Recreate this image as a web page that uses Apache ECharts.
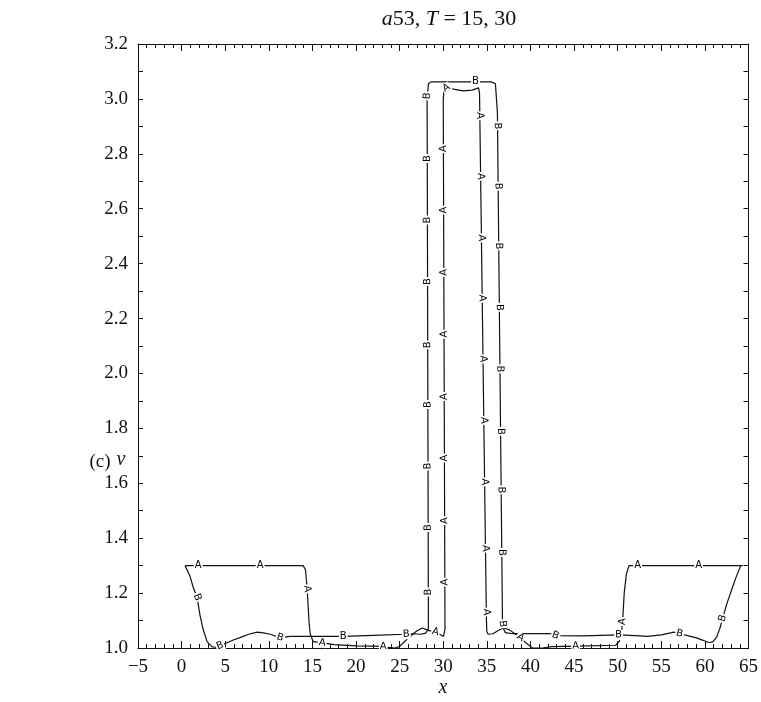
<!DOCTYPE html>
<html>
<head>
<meta charset="utf-8">
<script src="https://cdn.jsdelivr.net/npm/echarts@6/dist/echarts.min.js"></script>
<style>
  html, body { margin: 0; padding: 0; background: #fff; }
  #chart { width: 761px; height: 702px; }
</style>
</head>
<body>
<div id="chart"></div>
<script>
// Axis ranges and tick steps
const xRange = [-5, 65];
const xStep = 5;
const vRange = [1.0, 3.2];
const vStep = 0.2;

// Profile A (T = 15): [x, v]
const curveA = [
  [0.4, 1.3], [13.94, 1.3], [14.2, 1.285], [14.4, 1.215], [14.6, 1.1], [14.74, 1.052],
  [15.09, 1.023], [16.12, 1.019], [17.5, 1.012], [20, 1.008], [23.12, 1.006], [23.7, 1.002],
  [24.5, 1.0], [25.0, 1.006], [25.42, 1.019], [26.0, 1.037], [26.56, 1.052], [27.03, 1.064],
  [27.6, 1.073], [28.3, 1.064], [29.1, 1.058], [29.7, 1.048], [30.03, 1.042], [30.2, 1.07],
  [30.0, 3.0], [30.1, 3.035], [30.37, 3.04], [31.3, 3.035], [32.32, 3.029], [33.3, 3.032],
  [34.05, 3.04], [34.16, 3.02], [34.95, 1.1], [35.0, 1.06], [35.15, 1.05], [35.7, 1.052],
  [36.3, 1.064], [36.9, 1.073], [37.6, 1.066], [38.2, 1.052], [38.85, 1.038], [39.5, 1.018],
  [40.23, 1.0], [40.8, 1.0], [41.49, 1.001], [42.5, 1.005], [45.17, 1.007], [49.76, 1.01],
  [50.2, 1.025], [50.45, 1.06], [50.56, 1.096], [50.75, 1.2], [51.0, 1.27], [51.3, 1.3],
  [64.34, 1.3]
];

// Profile B (T = 30): [x, v]
const curveB = [
  [0.39, 1.3], [0.7, 1.28], [0.96, 1.262], [1.31, 1.223], [1.77, 1.185], [2.11, 1.119],
  [2.46, 1.069], [2.92, 1.023], [3.49, 1.004], [4.0, 1.003], [4.41, 1.008], [5.21, 1.019],
  [6.0, 1.03], [6.7, 1.038], [7.7, 1.05], [8.66, 1.058], [9.4, 1.055], [10.15, 1.05],
  [11.3, 1.038], [12.45, 1.042], [15, 1.042], [18.53, 1.042], [22, 1.046], [25.65, 1.05],
  [26.56, 1.052], [27.4, 1.05], [28.0, 1.054], [28.3, 1.07], [28.15, 3.0], [28.3, 3.055],
  [28.6, 3.062], [35.5, 3.062], [35.98, 3.055], [36.21, 2.95], [36.79, 1.1], [36.9, 1.07],
  [37.13, 1.056], [38, 1.052], [42.29, 1.052], [42.87, 1.045], [46, 1.044], [50.1, 1.048],
  [52, 1.045], [53.43, 1.042], [55, 1.048], [56.07, 1.055], [56.41, 1.058], [57.1, 1.052],
  [58.0, 1.045], [58.94, 1.038], [59.8, 1.028], [60.43, 1.02], [60.9, 1.022], [61.35, 1.04],
  [61.7, 1.07], [62.04, 1.108], [62.5, 1.16], [63.19, 1.223], [63.6, 1.26], [64.11, 1.3]
];

// Letter tags placed along each profile: [x, v]
const markA = [
  [1.9, 1.3], [9.0, 1.3], [14.4, 1.215], [16.12, 1.019], [23.12, 1.006], [29.1, 1.058],
  [30.18, 1.24], [30.16, 1.464], [30.14, 1.692], [30.11, 1.916], [30.09, 2.143],
  [30.07, 2.368], [30.04, 2.595], [30.02, 2.819], [30.37, 3.04],
  [34.19, 2.939], [34.28, 2.718], [34.38, 2.494], [34.47, 2.274], [34.56, 2.053],
  [34.65, 1.829], [34.74, 1.605], [34.84, 1.363], [34.94, 1.131],
  [38.85, 1.038], [45.17, 1.007], [50.56, 1.096], [52.28, 1.3], [59.28, 1.3]
];
const markB = [
  [1.77, 1.185], [4.41, 1.008], [11.3, 1.038], [18.53, 1.042], [25.76, 1.05],
  [28.29, 1.204], [28.27, 1.439], [28.25, 1.663], [28.24, 1.887], [28.22, 2.104],
  [28.2, 2.335], [28.18, 2.559], [28.17, 2.783], [28.15, 3.011], [33.7, 3.062],
  [36.22, 2.902], [36.29, 2.682], [36.36, 2.465], [36.43, 2.241], [36.5, 2.017],
  [36.57, 1.789], [36.64, 1.576], [36.71, 1.348], [36.79, 1.088],
  [42.87, 1.045], [50.1, 1.048], [57.1, 1.052], [62.04, 1.108]
];

const serif = '"Liberation Serif", "DejaVu Serif", serif';
const ink = '#111';

const chart = echarts.init(document.getElementById('chart'), null, { renderer: 'canvas' });

function xAxisDef(pos, showLabels) {
  return {
    type: 'value', position: pos, min: xRange[0], max: xRange[1], interval: xStep,
    axisLine: { show: true, onZero: false, lineStyle: { color: ink, width: 1 } },
    axisTick: { show: true, inside: true, length: 7, lineStyle: { color: ink, width: 1 } },
    minorTick: { show: true, splitNumber: 5, length: 4, lineStyle: { color: ink, width: 1 } },
    splitLine: { show: false },
    axisLabel: {
      show: showLabels, margin: 10, color: ink, fontFamily: serif, fontSize: 19,
      formatter: v => String(v).replace('-', '\u2212')
    }
  };
}
function yAxisDef(pos, showLabels) {
  return {
    type: 'value', position: pos, min: vRange[0], max: vRange[1], interval: vStep,
    axisLine: { show: true, onZero: false, lineStyle: { color: ink, width: 1 } },
    axisTick: { show: true, inside: true, length: 5, lineStyle: { color: ink, width: 1 } },
    minorTick: { show: true, splitNumber: 2, length: 5, lineStyle: { color: ink, width: 1 } },
    splitLine: { show: false },
    axisLabel: {
      show: showLabels, margin: 10, color: ink, fontFamily: serif, fontSize: 19,
      formatter: v => v.toFixed(1)
    }
  };
}

const lineStyle = { color: ink, width: 1.2 };

// Direction (radians, anticlockwise) of the profile stretch nearest to a pixel point;
// rising stretches read upwards, falling ones downwards
function localAngle(api, curve, q) {
  let best = Infinity, ang = 0;
  let prev = api.coord(curve[0]);
  for (let i = 1; i < curve.length; i++) {
    const b = api.coord(curve[i]);
    const a = prev;
    prev = b;
    const dx = b[0] - a[0], dy = b[1] - a[1];
    const len2 = dx * dx + dy * dy;
    if (len2 === 0) continue;
    let s = ((q[0] - a[0]) * dx + (q[1] - a[1]) * dy) / len2;
    s = Math.max(0, Math.min(1, s));
    const ex = a[0] + s * dx - q[0], ey = a[1] + s * dy - q[1];
    const d = ex * ex + ey * ey;
    if (d < best) {
      best = d;
      ang = Math.atan2(-dy, dx);
    }
  }
  if (ang > Math.PI / 2 + 0.25) ang -= Math.PI;
  if (ang < -Math.PI / 2 - 0.25) ang += Math.PI;
  return ang;
}

function tagSeries(letter, pts, curve) {
  return {
    type: 'custom', xAxisIndex: 0, yAxisIndex: 0, z: 5, silent: true,
    data: pts,
    renderItem: (params, api) => {
      const p = api.coord([api.value(0), api.value(1)]);
      return {
        type: 'text', x: p[0], y: p[1], rotation: localAngle(api, curve, p),
        style: {
          text: letter, fill: '#000', font: '10px "DejaVu Sans", sans-serif',
          align: 'center', verticalAlign: 'middle',
          backgroundColor: '#fff', padding: [0, 1]
        }
      };
    }
  };
}

chart.setOption({
  animation: false,
  backgroundColor: '#fff',
  title: {
    text: '{i|a}53, {i|T} = 15, 30',
    left: 444, top: 3, textAlign: 'center',
    textStyle: {
      fontFamily: serif, fontSize: 22, fontWeight: 'normal', color: ink,
      rich: { i: { fontFamily: serif, fontSize: 22, fontStyle: 'italic', color: ink } }
    }
  },
  grid: { left: 138, right: 12, top: 44, bottom: 54, containLabel: false },
  xAxis: [xAxisDef('bottom', true), xAxisDef('top', false)],
  yAxis: [yAxisDef('left', true), yAxisDef('right', false)],
  graphic: [
    { type: 'text', x: 100, y: 462, style: { text: '(c)', fill: ink, font: '19px ' + serif, textAlign: 'center', textVerticalAlign: 'middle' } },
    { type: 'text', x: 121, y: 460, style: { text: 'v', fill: ink, font: 'italic 20px ' + serif, textAlign: 'center', textVerticalAlign: 'middle' } },
    { type: 'text', x: 443, y: 688, style: { text: 'x', fill: ink, font: 'italic 20px ' + serif, textAlign: 'center', textVerticalAlign: 'middle' } }
  ],
  series: [
    { name: 'A', type: 'line', xAxisIndex: 0, yAxisIndex: 0, data: curveA, showSymbol: false, symbol: 'none', lineStyle: lineStyle, z: 2, clip: false },
    { name: 'B', type: 'line', xAxisIndex: 0, yAxisIndex: 0, data: curveB, showSymbol: false, symbol: 'none', lineStyle: lineStyle, z: 2, clip: false },
    tagSeries('A', markA, curveA),
    tagSeries('B', markB, curveB)
  ]
});
</script>
</body>
</html>
